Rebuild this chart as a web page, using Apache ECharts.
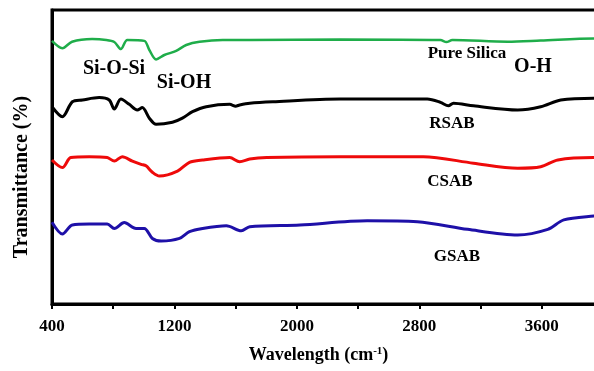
<!DOCTYPE html>
<html>
<head>
<meta charset="utf-8">
<script src="https://cdn.jsdelivr.net/npm/echarts@6/dist/echarts.min.js"></script>
<style>
  html, body { margin: 0; padding: 0; background: #fff; }
  #chart { width: 594px; height: 371px; }
</style>
</head>
<body>
<div id="chart"></div>
<script>
// FTIR spectra (transmittance in offset units)
const xTickLabels = [400, 1200, 2000, 2800, 3600];

const silicaWn = [400, 468, 531, 662, 754, 807, 850, 892, 1003, 1036, 1080, 1134, 1211, 1277, 1364, 1515, 1692, 2282, 2938, 2977, 3016, 3377, 3593, 3941, 4000];
const silicaT  = [89.5, 87.0, 89.2, 90.1, 89.8, 89.1, 86.7, 89.8, 89.5, 86.4, 83.2, 84.7, 86.1, 88.1, 89.2, 89.8, 89.8, 90.0, 89.8, 89.1, 89.8, 89.2, 89.6, 90.3, 90.3];

const rsabWn = [400, 468, 533, 599, 708, 774, 807, 850, 905, 957, 990, 1036, 1080, 1187, 1252, 1318, 1408, 1561, 1600, 1626, 1692, 1843, 2282, 2852, 2938, 2990, 3023, 3154, 3443, 3593, 3724, 3941, 4000];
const rsabT  = [67.1, 63.7, 68.8, 69.4, 70.2, 69.4, 66.3, 69.7, 67.9, 66.0, 66.8, 63.2, 61.1, 61.8, 63.2, 65.4, 67.1, 67.9, 67.3, 67.7, 68.3, 68.8, 69.7, 69.7, 68.6, 67.4, 68.3, 67.4, 66.0, 67.1, 69.4, 70.0, 70.0];

const csabWn = [400, 468, 523, 643, 761, 807, 859, 925, 982, 1014, 1056, 1102, 1220, 1298, 1384, 1561, 1626, 1692, 1803, 2282, 2826, 3154, 3443, 3593, 3705, 3941, 4000];
const csabT  = [49.0, 46.4, 49.8, 50.1, 49.8, 48.6, 50.1, 48.6, 47.5, 47.0, 44.8, 43.5, 45.2, 48.2, 49.0, 49.8, 48.4, 49.3, 49.8, 50.1, 50.1, 47.9, 46.2, 46.7, 49.0, 49.8, 49.8];

const gsabWn = [400, 468, 533, 643, 761, 807, 872, 949, 1003, 1056, 1113, 1233, 1298, 1384, 1539, 1637, 1692, 2020, 2459, 2787, 3115, 3443, 3639, 3744, 3941, 4000];
const gsabT  = [27.8, 23.8, 26.9, 27.2, 27.2, 25.7, 27.7, 25.7, 25.7, 22.3, 21.4, 22.3, 24.6, 25.7, 26.6, 24.9, 26.3, 26.9, 28.3, 28.0, 25.4, 23.5, 25.4, 28.6, 29.9, 30.0];

const serif = '"Liberation Serif", "Times New Roman", serif';

function zip(xs, ys) { return xs.map((x, i) => [x, ys[i]]); }

function spectrum(name, xs, ys, color, width) {
  return {
    name: name,
    type: 'line',
    data: zip(xs, ys),
    smooth: 0.3,
    symbol: 'none',
    lineStyle: { color: color, width: width },
    z: 3
  };
}

function label(text, x, y, size) {
  return {
    type: 'text', x: x, y: y, z: 10,
    style: {
      text: text, fill: '#000', align: 'center', verticalAlign: 'middle',
      font: 'bold ' + size + 'px ' + serif
    }
  };
}

const chart = echarts.init(document.getElementById('chart'), null, { renderer: 'canvas' });

chart.setOption({
  animation: false,
  backgroundColor: '#fff',
  // plot runs past the right edge of the picture, as in the original crop
  grid: {
    left: 52, width: 551, top: 10, bottom: 67,
    outerBoundsMode: 'none',
    show: true, borderColor: '#000', borderWidth: 3
  },
  xAxis: {
    type: 'value',
    min: 400, max: 4000, interval: 400,
    name: 'Wavelength (cm{sup|-1})',
    nameLocation: 'middle',
    nameGap: 42,
    nameTextStyle: {
      fontFamily: serif, fontWeight: 'bold', fontSize: 18, color: '#000',
      padding: [0, 18, 0, 0],
      rich: {
        sup: { fontFamily: serif, fontWeight: 'bold', fontSize: 11, color: '#000', padding: [0, 0, 8, 0] }
      }
    },
    axisLine: { lineStyle: { color: '#000', width: 3 } },
    axisTick: { show: true, inside: false, length: 5, lineStyle: { color: '#000', width: 2 } },
    axisLabel: {
      margin: 14, color: '#000', fontFamily: serif, fontWeight: 'bold', fontSize: 17,
      formatter: function (v) { return xTickLabels.includes(v) ? String(v) : ''; }
    },
    splitLine: { show: false }
  },
  yAxis: {
    type: 'value',
    min: 0, max: 100,
    axisLine: { show: true, lineStyle: { color: '#000', width: 3 } },
    axisTick: { show: false },
    axisLabel: { show: false },
    splitLine: { show: false }
  },
  graphic: [
    {
      type: 'text', x: 22, y: 177, rotation: Math.PI / 2, z: 10,
      style: {
        text: 'Transmittance (%)', fill: '#000', align: 'center', verticalAlign: 'middle',
        font: 'bold 20px ' + serif
      }
    },
    label('Si-O-Si', 114, 69, 20),
    label('Si-OH', 184, 83, 20),
    label('Pure Silica', 467, 54, 17),
    label('O-H', 533, 67, 20),
    label('RSAB', 452, 124, 17),
    label('CSAB', 450, 182, 17),
    label('GSAB', 457, 257, 17)
  ],
  series: [
    spectrum('Pure Silica', silicaWn, silicaT, '#1fad4a', 2.5),
    spectrum('RSAB', rsabWn, rsabT, '#000000', 3),
    spectrum('CSAB', csabWn, csabT, '#ee0a0a', 3),
    spectrum('GSAB', gsabWn, gsabT, '#1e10a8', 3)
  ]
});
</script>
</body>
</html>
